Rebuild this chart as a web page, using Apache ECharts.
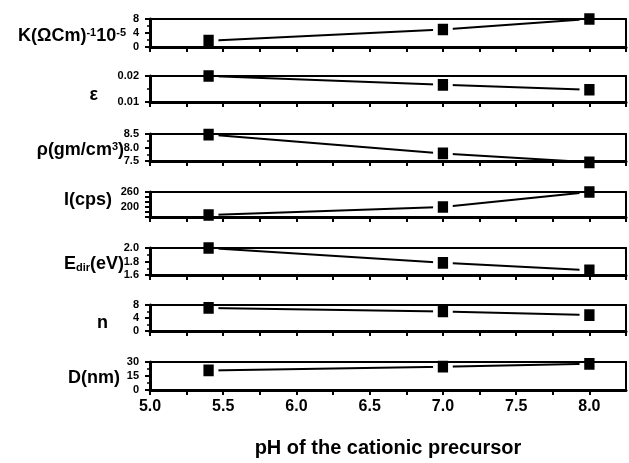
<!DOCTYPE html>
<html>
<head>
<meta charset="utf-8">
<script src="https://cdn.jsdelivr.net/npm/echarts@6/dist/echarts.min.js"></script>
<style>
  html, body { margin: 0; padding: 0; background: #fff; }
  #chart { width: 629px; height: 463px; }
</style>
</head>
<body>
<div id="chart"></div>
<script>
// pH values of the three samples
const phValues = [5.4, 7.0, 8.0];

// one array per panel
const conductivity = [1.8, 5.0, 8.0];
const epsilon = [0.0200, 0.0166, 0.0147];
const density = [8.48, 7.78, 7.45];
const intensity = [168, 200, 260];
const bandGap = [2.0, 1.78, 1.67];
const refIndex = [7.1, 6.0, 4.9];
const crystalSize = [21, 25, 28];

const xTickLabels = ['5.0', '5.5', '6.0', '6.5', '7.0', '7.5', '8.0'];

const panels = [
  { values: conductivity, min: 0, max: 8, interval: 4, digits: 0, minor: 2 },
  { values: epsilon, min: 0.01, max: 0.02, interval: 0.01, digits: 2, minor: 2 },
  { values: density, min: 7.5, max: 8.5, interval: 0.5, digits: 1, minor: 2 },
  { values: intensity, min: 160, max: 260, interval: 20, digits: 0, minor: 0, labels: ['200', '260'] },
  { values: bandGap, min: 1.6, max: 2.0, interval: 0.2, digits: 1, minor: 2 },
  { values: refIndex, min: 0, max: 8, interval: 4, digits: 0, minor: 2 },
  { values: crystalSize, min: 0, max: 30, interval: 15, digits: 0, minor: 2 }
];

// layout of the stacked panels
const tops = [19, 76, 134, 192, 248, 305, 362];
const heights = [28, 26, 27, 25, 27, 26, 28];

const FONT = '"Liberation Sans", Arial, sans-serif';

let chartDom = document.getElementById('chart');
let myChart = echarts.init(chartDom, null, { renderer: 'canvas' });

let grid = [], xAxis = [], yAxis = [], series = [];

panels.forEach((p, i) => {
  const last = i === panels.length - 1;
  grid.push({ left: 150, right: 3, top: tops[i], height: heights[i] });

  // bottom axis with ticks
  xAxis.push({
    type: 'value', gridIndex: i, position: 'bottom', z: 5,
    min: 5, max: 8.25, interval: 0.25,
    splitLine: { show: false },
    axisLine: { onZero: false, lineStyle: { color: '#000', width: 3 } },
    axisTick: { inside: false, length: 5, lineStyle: { color: '#000', width: 2 } },
    axisLabel: {
      show: last, margin: 9, color: '#000', fontFamily: FONT, fontWeight: 'bold', fontSize: 16,
      showMaxLabel: false,
      formatter: (v) => {
        const s = v.toFixed(1);
        return xTickLabels.includes(s) && Math.abs(v * 2 - Math.round(v * 2)) < 1e-6 ? s : '';
      }
    }
  });
  // top border
  xAxis.push({
    type: 'value', gridIndex: i, position: 'top', z: 5, min: 5, max: 8.25,
    splitLine: { show: false },
    axisLine: { onZero: false, lineStyle: { color: '#000', width: 2 } },
    axisTick: { show: false }, axisLabel: { show: false }
  });

  yAxis.push({
    type: 'value', gridIndex: i, position: 'left', z: 5,
    min: p.min, max: p.max, interval: p.interval,
    splitLine: { show: false },
    axisLine: { onZero: false, lineStyle: { color: '#000', width: 3 } },
    axisTick: { length: 5, lineStyle: { color: '#000', width: 2 } },
    minorTick: { show: p.minor > 0, splitNumber: p.minor || 2, length: 3, lineStyle: { color: '#000', width: 1.5 } },
    axisLabel: {
      margin: 11, color: '#000', fontFamily: FONT, fontWeight: 'bold', fontSize: 11,
      formatter: (v) => {
        const s = v.toFixed(p.digits);
        if (p.labels) return p.labels.includes(s) ? s : '';
        return s;
      }
    }
  });
  // right border
  yAxis.push({
    type: 'value', gridIndex: i, position: 'right', z: 5,
    min: p.min, max: p.max,
    splitLine: { show: false },
    axisLine: { onZero: false, lineStyle: { color: '#000', width: 2 } },
    axisTick: { show: false }, axisLabel: { show: false }
  });

  series.push({
    type: 'line',
    xAxisIndex: i * 2,
    yAxisIndex: i * 2,
    data: phValues.map((x, j) => [x, p.values[j]]),
    symbol: 'rect',
    symbolSize: [15, 17],
    clip: false,
    z: 2,
    itemStyle: { color: '#000', borderColor: '#fff', borderWidth: 5 },
    lineStyle: { color: '#000', width: 2 },
    emphasis: { disabled: true }
  });
});

const mainTok = { fontSize: 18, fontWeight: 'bold', fontFamily: FONT, fill: '#000' };
const supTok = { fontSize: 11, fontWeight: 'bold', fontFamily: FONT, fill: '#000', verticalAlign: 'top' };
const subTok = { fontSize: 11, fontWeight: 'bold', fontFamily: FONT, fill: '#000', verticalAlign: 'bottom' };
const plain = (text, x, y, size) => ({
  type: 'text', x: x, y: y,
  style: { text: text, fill: '#000', font: 'bold ' + size + 'px ' + FONT, align: x > 200 ? 'center' : 'right', verticalAlign: 'middle' }
});

const graphic = [
  { type: 'text', x: 126, y: 36, style: { text: '{m|K(ΩCm)}{p|-1}{m|10}{p|-5}', rich: { m: mainTok, p: supTok }, align: 'right', verticalAlign: 'middle' } },
  plain('ε', 98, 95, 18),
  { type: 'text', x: 124, y: 150, style: { text: '{m|ρ(gm/cm}{p|3}{m|)}', rich: { m: mainTok, p: supTok }, align: 'right', verticalAlign: 'middle' } },
  plain('I(cps)', 112, 200, 18),
  { type: 'text', x: 124, y: 264, style: { text: '{m|E}{b|dir}{m|(eV)}', rich: { m: mainTok, b: subTok }, align: 'right', verticalAlign: 'middle' } },
  plain('n', 108, 323, 18),
  plain('D(nm)', 120, 378, 18),
  plain('pH of the cationic precursor', 388, 448, 20)
];

let option = {
  animation: false,
  backgroundColor: '#fff',
  grid: grid,
  xAxis: xAxis,
  yAxis: yAxis,
  series: series,
  graphic: graphic
};

option && myChart.setOption(option);
</script>
</body>
</html>
